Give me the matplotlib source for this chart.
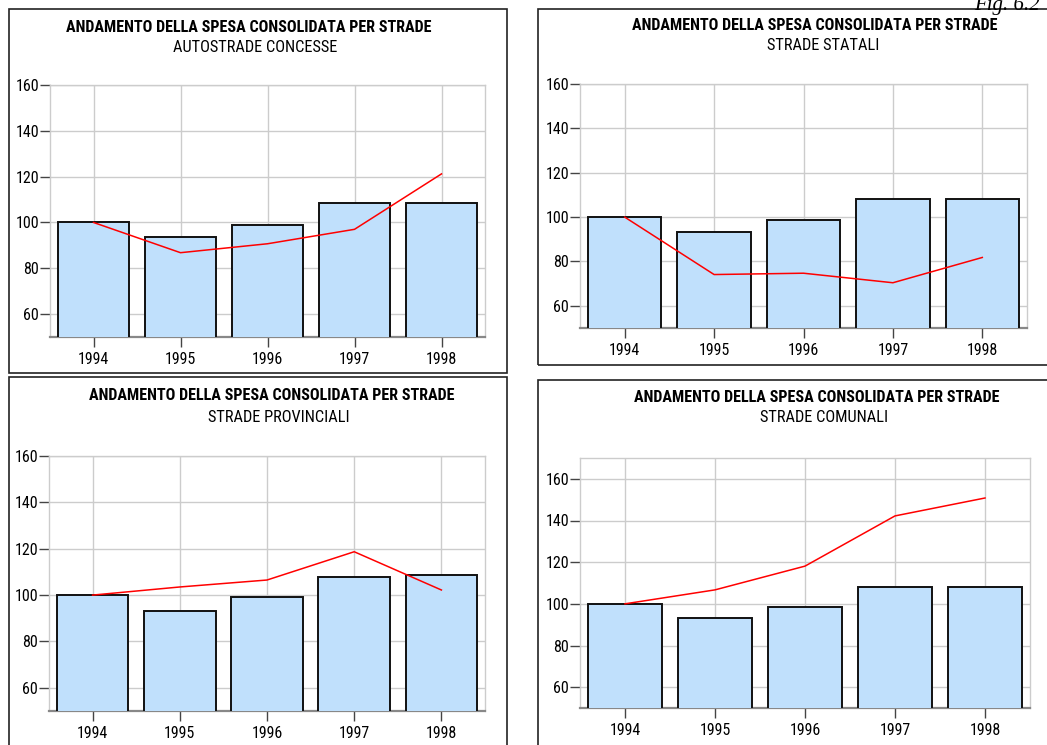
import matplotlib
matplotlib.use('Agg')
import matplotlib.pyplot as plt
from matplotlib.patches import Rectangle

plt.rcParams['font.family'] = ['Liberation Sans Narrow', 'Roboto Condensed', 'Liberation Sans', 'DejaVu Sans']

W, H = 1047, 745

years = ['1994', '1995', '1996', '1997', '1998']
yticks = [60, 80, 100, 120, 140, 160]
main_title = 'ANDAMENTO DELLA SPESA CONSOLIDATA PER STRADE'

# bars: spesa consolidata totale (indice 1994=100)
bars_aut = [100, 93.6, 98.8, 108.4, 108.4]
bars_sta = [100, 93.2, 98.7, 108.0, 108.0]
bars_pro = [100, 93.0, 99.0, 108.0, 108.5]
bars_com = [100, 93.2, 98.6, 108.3, 108.3]

# red lines: singola categoria di strade
line_aut = [100, 86.8, 90.7, 97.0, 121.2]
line_sta = [100, 74.1, 74.7, 70.4, 81.8]
line_pro = [100, 103.5, 106.5, 118.7, 102.2]
line_com = [100, 106.7, 118.1, 142.2, 150.8]

subtitles = ['AUTOSTRADE CONCESSE', 'STRADE STATALI', 'STRADE PROVINCIALI', 'STRADE COMUNALI']


def fx(x):
    return x / W


def fy(y):
    return 1 - y / H


fig = plt.figure(figsize=(W / 100, H / 100), dpi=100)

# panel frames (left, top, right, bottom in pixels)
frames = [(9, 9, 507, 373), (538, 9, 1060, 365), (9, 377, 507, 760), (538, 380, 1060, 760)]
for l, t, r, b in frames:
    fig.patches.append(Rectangle((fx(l), fy(b)), fx(r - l), (b - t) / H, transform=fig.transFigure,
                                 fill=False, edgecolor='#222222', linewidth=1.2, clip_on=False))

# axes boxes (left, top, right, bottom in pixels) and y max
boxes = [(50, 85, 485, 337, 160), (580, 84, 1027, 328, 160),
         (49, 456, 485, 711, 160), (580, 458, 1030, 708, 170)]
all_bars = [bars_aut, bars_sta, bars_pro, bars_com]
all_lines = [line_aut, line_sta, line_pro, line_com]
title_pos = [(249, 28, 255, 47.5), (815, 25, 823, 46), (272, 396, 279, 417), (817, 397, 824, 418)]

for i in range(4):
    l, t, r, b, ymax = boxes[i]
    ax = fig.add_axes([fx(l), fy(b), fx(r - l), (b - t) / H])
    x = range(len(years))
    ax.bar(x, all_bars[i], width=0.82, bottom=0, color='#c0e0fc', edgecolor='#111111',
           linewidth=1.4, zorder=3)
    ax.plot(x, all_lines[i], color='red', linewidth=1.1, zorder=4)
    ax.set_xlim(-0.5, 4.5)
    ax.set_ylim(50, ymax)
    ax.set_yticks(yticks)
    ax.set_xticks(list(x))
    ax.set_xticklabels(years)
    ax.grid(True, color='#cccccc', linewidth=1.0, zorder=0)
    ax.set_axisbelow(True)
    for s in ['top', 'right', 'left']:
        ax.spines[s].set_color('#cccccc')
        ax.spines[s].set_linewidth(1.0)
    ax.spines['bottom'].set_color('#888888')
    ax.spines['bottom'].set_linewidth(1.6)
    ax.tick_params(axis='both', length=7, width=1, color='#444444', labelsize=11.5, pad=1)
    ax.tick_params(axis='x', pad=4)

    tx, ty, sx, sy = title_pos[i]
    fig.text(fx(tx), fy(ty), main_title, ha='center', va='center', fontsize=11.6,
             fontweight='bold')
    fig.text(fx(sx), fy(sy), subtitles[i], ha='center', va='center', fontsize=11.8)

fig.text(fx(974), fy(10), 'Fig. 6.2', ha='left', va='baseline', fontsize=15,
         family=['Liberation Serif', 'DejaVu Serif'], style='italic')

fig.savefig('out.png', dpi=100)
